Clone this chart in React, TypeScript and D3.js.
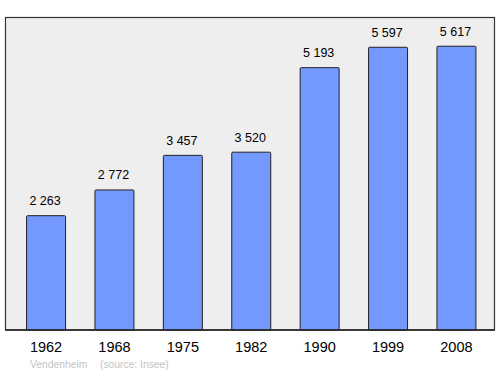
import React from "react";
import * as d3 from "d3";

const years = ["1962", "1968", "1975", "1982", "1990", "1999", "2008"];
const population = [2263, 2772, 3457, 3520, 5193, 5597, 5617];
const town = "Vendenheim";
const source = "(source: Insee)";

export default function App() {
  const W = 500, H = 374;
  const left = 5.5, right = 494.5, top = 17.5, bottom = 330;
  const x = d3.scaleBand<string>().domain(years).range([7, 495.5]).paddingInner(0.43).paddingOuter(0.286);
  const y = d3.scaleLinear().domain([0, 6186]).range([bottom, top]);
  const fmt = (v: number) => d3.format(",")(v).replace(/,/g, " ");
  return (
    <svg width={W} height={H} style={{ position: "absolute", left: 0, top: 0, fontFamily: "'Liberation Sans', Arial, sans-serif" }}>
      <rect x={0} y={0} width={W} height={H} fill="#fff" />
      <rect x={left} y={top} width={right - left} height={bottom - top} fill="#eeeeee" stroke="#333" strokeWidth={1.2} />
      {years.map((yr, i) => {
        const bx = x(yr)!;
        const bw = x.bandwidth();
        const v = population[i];
        return (
          <g key={yr}>
            <rect x={bx} y={y(v)} width={bw} height={bottom - y(v)} rx={1} fill="#7399ff" stroke="#222" strokeWidth={1} />
            <text x={bx + bw / 2 - 1} y={y(v) - 10.5} textAnchor="middle" fontSize={12.5} fill="#000">{fmt(v)}</text>
            <text x={bx + bw / 2} y={352} textAnchor="middle" fontSize={14.5} fill="#000">{yr}</text>
          </g>
        );
      })}
      <line x1={left} x2={right} y1={bottom} y2={bottom} stroke="#222" strokeWidth={1.5} />
      <text x={30} y={368} fontSize={10.3} fill="#c4c4c4">{town}</text>
      <text x={100} y={368} fontSize={10.3} fill="#c4c4c4">{source}</text>
    </svg>
  );
}
